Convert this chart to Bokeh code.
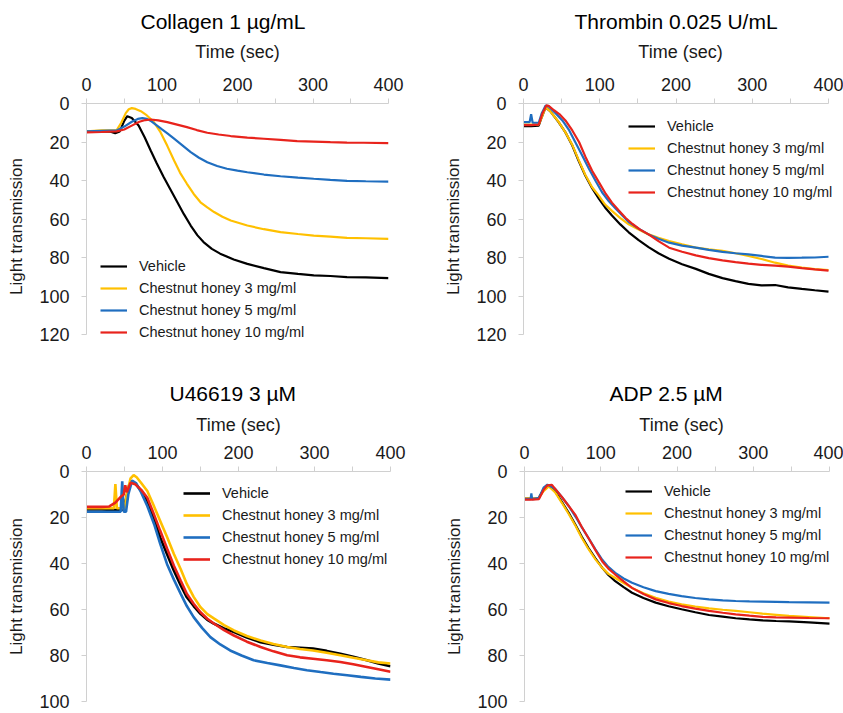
from bokeh.plotting import figure
from bokeh.models import Range1d, FixedTicker, Legend, LegendItem
from bokeh.layouts import column, row
from bokeh.embed import file_html
from bokeh.resources import INLINE

FONT = "Liberation Sans"
TITLES = ["Collagen 1 µg/mL", "Thrombin 0.025 U/mL", "U46619 3 µM", "ADP 2.5 µM"]
SERIES_LABELS = ["Vehicle", "Chestnut honey 3 mg/ml", "Chestnut honey 5 mg/ml", "Chestnut honey 10 mg/ml"]
COLORS = ["#000000", "#FFC000", "#1F6EC0", "#E8231C"]
X_TICKS = [0, 100, 200, 300, 400]
X_MINOR_TICKS = [50, 150, 250, 350]
Y_TICKS_TOP = [0, 20, 40, 60, 80, 100, 120]
Y_TICKS_BOTTOM = [0, 20, 40, 60, 80, 100]

# ---- Collagen 1 ug/mL ----
COL_VEH_T = [0, 20, 32, 38, 44, 50, 54, 60, 69, 77, 85, 93, 102, 111, 120, 129, 138, 147, 155, 166, 177, 195, 213, 235, 257, 280, 301, 323, 345, 370, 400]
COL_VEH_V = [14.5, 14.5, 14.6, 15.5, 14.5, 9.0, 6.6, 7.5, 11.4, 17.5, 24.4, 31.0, 38.0, 44.5, 51.0, 57.5, 63.4, 68.5, 72.0, 75.5, 78.0, 81.0, 83.3, 85.5, 87.6, 88.5, 89.3, 89.6, 90.2, 90.3, 90.7]
COL_Y3_T = [0, 20, 40, 46, 52, 56, 60, 65, 72, 80, 89, 98, 107, 116, 124, 133, 142, 151, 160, 169, 180, 191, 213, 235, 257, 280, 301, 323, 345, 370, 400]
COL_Y3_V = [14.5, 14.0, 13.8, 10.0, 5.0, 3.0, 2.4, 2.8, 4.0, 6.2, 9.5, 14.9, 22.0, 29.6, 36.0, 41.7, 47.0, 51.3, 54.0, 56.4, 58.8, 60.8, 63.4, 65.3, 66.8, 67.8, 68.6, 69.2, 69.8, 70.0, 70.3]
COL_B5_T = [0, 20, 40, 50, 60, 68, 74, 80, 86, 93, 100, 108, 116, 127, 138, 149, 160, 173, 186, 200, 213, 235, 257, 280, 301, 323, 345, 370, 400]
COL_B5_V = [14.5, 14.2, 14.0, 12.0, 9.5, 8.0, 7.6, 8.0, 9.3, 11.4, 13.5, 15.8, 18.3, 21.8, 25.3, 28.2, 30.5, 32.5, 33.9, 34.9, 35.7, 36.9, 37.8, 38.5, 39.1, 39.7, 40.2, 40.4, 40.6]
COL_R10_T = [0, 20, 40, 50, 60, 70, 78, 85, 95, 107, 120, 133, 146, 160, 175, 191, 213, 235, 257, 279, 301, 323, 345, 367, 400]
COL_R10_V = [15.0, 14.8, 14.5, 13.5, 11.5, 9.5, 8.6, 8.3, 8.8, 9.7, 11.0, 12.3, 13.8, 15.2, 16.1, 16.9, 17.7, 18.3, 18.9, 19.5, 19.8, 20.1, 20.3, 20.4, 20.6]

# ---- Thrombin 0.025 U/mL ----
THR_VEH_T = [0, 10, 20, 24, 29, 35, 46, 55, 64, 72, 81, 90, 99, 107, 116, 127, 138, 151, 164, 177, 191, 208, 226, 243, 261, 278, 295, 312, 330, 347, 365, 382, 400]
THR_VEH_V = [11.8, 11.8, 11.5, 7.0, 2.0, 4.0, 9.7, 15.0, 21.8, 29.5, 37.4, 44.0, 49.5, 54.0, 58.2, 62.8, 66.9, 71.0, 74.6, 77.8, 80.7, 83.5, 85.9, 88.5, 90.7, 92.3, 93.7, 94.5, 94.3, 95.5, 96.3, 97.0, 97.7]
THR_Y3_T = [0, 10, 20, 24, 29, 35, 46, 55, 64, 72, 81, 90, 99, 107, 116, 127, 138, 151, 164, 177, 191, 208, 226, 243, 261, 278, 295, 312, 330, 347, 365, 382, 400]
THR_Y3_V = [11.0, 11.0, 11.0, 7.0, 2.0, 4.0, 9.5, 15.0, 21.5, 29.0, 37.0, 43.5, 48.0, 52.5, 55.8, 59.5, 62.8, 65.5, 68.0, 69.8, 71.4, 73.2, 74.9, 75.8, 76.6, 77.8, 79.2, 80.8, 82.7, 84.2, 85.3, 86.0, 86.5]
THR_B5_T = [0, 8, 10, 12, 20, 24, 29, 33, 42, 51, 60, 68, 77, 86, 95, 103, 112, 121, 130, 138, 151, 164, 177, 191, 208, 226, 243, 261, 278, 295, 312, 330, 347, 365, 382, 400]
THR_B5_V = [9.7, 9.7, 5.5, 10.0, 10.0, 5.0, 1.0, 1.5, 5.0, 8.8, 14.0, 20.1, 27.0, 34.0, 40.5, 46.1, 50.8, 54.7, 58.3, 61.6, 65.0, 68.0, 70.3, 72.3, 73.8, 74.9, 76.0, 77.1, 77.8, 78.4, 79.2, 80.1, 80.2, 80.1, 80.0, 79.6]
THR_R10_T = [0, 10, 20, 25, 30, 33, 40, 47, 55, 64, 73, 81, 90, 99, 108, 116, 125, 134, 143, 153, 164, 177, 191, 208, 226, 243, 261, 278, 295, 312, 330, 347, 365, 382, 400]
THR_R10_V = [11.2, 11.2, 11.0, 5.0, 1.0, 1.2, 3.5, 5.5, 8.8, 14.0, 20.1, 27.5, 34.9, 41.0, 47.0, 51.5, 55.6, 59.5, 62.6, 65.5, 68.0, 71.5, 74.9, 77.0, 78.9, 80.3, 81.5, 82.4, 83.2, 83.8, 84.2, 84.7, 85.5, 86.2, 86.8]

# ---- U46619 3 uM ----
U46_VEH_T = [0, 20, 40, 48, 52, 56, 60, 65, 72, 80, 88, 97, 106, 115, 124, 132, 141, 150, 159, 168, 181, 194, 211, 229, 246, 264, 281, 298, 316, 334, 351, 369, 384, 400]
U46_VEH_V = [16.5, 16.5, 16.8, 16.5, 12.0, 6.0, 4.3, 5.5, 8.5, 12.8, 20.0, 28.7, 36.0, 43.1, 49.5, 54.7, 58.5, 61.9, 64.5, 66.2, 68.2, 69.8, 72.2, 74.2, 75.3, 76.3, 76.6, 77.0, 78.0, 79.2, 80.5, 82.1, 83.5, 84.7]
U46_Y3_T = [0, 20, 36, 38, 40, 50, 53, 58, 62, 66, 72, 80, 88, 97, 106, 115, 124, 132, 141, 150, 159, 168, 181, 194, 211, 229, 246, 264, 281, 298, 316, 334, 351, 369, 384, 400]
U46_Y3_V = [16.0, 16.0, 16.0, 5.5, 16.0, 16.0, 10.0, 3.0, 1.6, 2.5, 5.0, 8.5, 14.5, 21.5, 28.5, 35.9, 42.5, 48.9, 54.5, 59.0, 62.0, 64.0, 66.8, 69.1, 71.5, 73.5, 75.0, 76.3, 77.2, 77.8, 78.8, 79.9, 81.0, 82.1, 83.0, 83.5]
U46_B5_T = [0, 20, 40, 45, 47, 49, 52, 55, 60, 65, 71, 80, 89, 97, 106, 115, 124, 132, 141, 152, 163, 176, 189, 204, 220, 238, 255, 273, 290, 308, 325, 343, 361, 380, 400]
U46_B5_V = [17.5, 17.5, 17.5, 17.5, 4.3, 17.5, 17.5, 10.0, 4.0, 5.0, 8.5, 15.0, 22.9, 31.5, 40.3, 47.0, 53.2, 58.5, 63.3, 68.0, 72.0, 75.2, 77.8, 80.0, 82.1, 83.3, 84.3, 85.4, 86.4, 87.2, 87.9, 88.6, 89.3, 90.0, 90.5]
U46_R10_T = [0, 20, 30, 38, 45, 49, 51, 53, 58, 64, 72, 80, 88, 97, 106, 115, 124, 132, 141, 150, 159, 168, 181, 194, 211, 229, 246, 264, 281, 298, 316, 334, 351, 369, 384, 400]
U46_R10_V = [15.4, 15.4, 15.2, 13.5, 11.0, 10.0, 6.0, 9.0, 4.9, 5.5, 8.0, 11.4, 18.0, 25.8, 33.5, 41.0, 47.5, 53.2, 57.5, 61.2, 64.0, 66.2, 69.0, 71.3, 74.0, 76.3, 78.2, 79.9, 80.8, 81.4, 82.1, 82.8, 83.8, 85.0, 86.0, 87.1]

# ---- ADP 2.5 uM ----
ADP_VEH_T = [0, 10, 18, 25, 32, 40, 49, 58, 67, 75, 84, 93, 102, 110, 119, 130, 141, 156, 172, 189, 206, 224, 242, 260, 277, 295, 312, 330, 347, 373, 400]
ADP_VEH_V = [11.8, 11.8, 11.8, 8.0, 6.3, 8.5, 13.2, 18.0, 23.3, 28.3, 33.3, 37.8, 41.9, 45.0, 47.7, 50.3, 52.7, 55.0, 57.0, 58.6, 59.9, 61.2, 62.4, 63.1, 63.8, 64.3, 64.7, 65.0, 65.2, 65.6, 66.1]
ADP_Y3_T = [0, 10, 18, 25, 32, 40, 49, 58, 67, 75, 84, 93, 102, 110, 119, 130, 141, 156, 172, 189, 206, 224, 242, 260, 277, 295, 312, 330, 347, 373, 400]
ADP_Y3_V = [11.8, 11.8, 11.8, 8.5, 6.5, 9.0, 13.6, 18.5, 23.7, 28.8, 33.8, 38.2, 41.9, 44.5, 46.3, 48.5, 50.6, 52.9, 54.9, 56.5, 57.8, 58.7, 59.5, 60.1, 60.6, 61.2, 61.8, 62.3, 62.8, 63.3, 63.8]
ADP_B5_T = [0, 8, 9, 10, 12, 19, 25, 30, 40, 49, 58, 67, 75, 84, 93, 102, 110, 119, 130, 141, 156, 172, 189, 206, 224, 242, 260, 277, 295, 312, 330, 347, 373, 400]
ADP_B5_V = [12.0, 12.0, 9.5, 12.0, 12.0, 11.5, 7.0, 5.7, 7.5, 11.1, 15.0, 19.7, 24.2, 29.0, 33.8, 38.4, 41.5, 44.1, 46.5, 48.4, 50.3, 52.0, 53.2, 54.2, 55.0, 55.6, 56.0, 56.3, 56.5, 56.6, 56.7, 56.8, 56.9, 57.0]
ADP_R10_T = [0, 10, 19, 25, 30, 36, 40, 49, 58, 67, 75, 84, 93, 102, 110, 119, 130, 141, 156, 172, 189, 206, 224, 242, 260, 277, 295, 312, 330, 347, 373, 400]
ADP_R10_V = [12.2, 12.2, 12.0, 8.0, 6.0, 5.8, 7.5, 11.1, 15.0, 19.0, 24.0, 29.0, 34.2, 39.1, 42.2, 44.8, 47.8, 50.6, 53.3, 55.6, 57.2, 58.5, 59.6, 60.6, 61.4, 62.1, 62.7, 63.2, 63.4, 63.5, 63.7, 63.8]


AXIS_GREY = "#D0D0D0"
TEXT_COL = "#1a1a1a"
X_MAX = 400


def make_panel(title, series, y_max, y_ticks, width, height, borders,
               title_offset, legend_loc, axis_std, title_std,
               y_axis_px, y_frame_px, x_axis_px, x_frame_px, lw):
    left, right, top, bottom = borders
    # frame a little larger than the axes so the legend can overhang them
    y_start = y_max * y_frame_px / y_axis_px
    x_end = X_MAX * x_frame_px / x_axis_px
    p = figure(width=width, height=height,
               x_range=Range1d(0, x_end), y_range=Range1d(y_start, 0),
               x_axis_location="above", y_axis_location="left",
               output_backend="svg", toolbar_location=None,
               min_border_left=left, min_border_right=right,
               min_border_top=top, min_border_bottom=bottom)
    p.title.text = title
    p.title.align = "left"
    p.title.offset = title_offset
    p.title.text_font = FONT
    p.title.text_font_size = "21px"
    p.title.text_font_style = "normal"
    p.title.text_color = "#000000"
    p.title.standoff = title_std
    p.grid.visible = False
    p.outline_line_color = None
    p.background_fill_color = "white"
    p.border_fill_color = "white"

    xa = p.xaxis[0]
    xa.ticker = FixedTicker(ticks=X_TICKS, minor_ticks=X_MINOR_TICKS)
    xa.axis_label = "Time (sec)"
    xa.bounds = (0, X_MAX)
    ya = p.yaxis[0]
    ya.ticker = FixedTicker(ticks=y_ticks)
    ya.axis_label = "Light transmission"
    ya.bounds = (0, y_max)
    for ax in (xa, ya):
        ax.axis_line_color = AXIS_GREY
        ax.axis_line_width = 1
        ax.major_tick_line_color = AXIS_GREY
        ax.minor_tick_line_color = AXIS_GREY
        ax.major_tick_out = 5
        ax.major_tick_in = 0
        ax.minor_tick_out = 5
        ax.minor_tick_in = 0
        ax.major_label_text_font = FONT
        ax.major_label_text_font_size = "18px"
        ax.major_label_text_color = TEXT_COL
        ax.axis_label_text_font = FONT
        ax.axis_label_text_font_style = "normal"
        ax.axis_label_text_color = TEXT_COL
    xa.axis_label_text_font_size = "18px"
    ya.axis_label_text_font_size = "17px"
    xa.major_label_standoff = 8
    xa.axis_label_standoff = axis_std
    ya.major_label_standoff = 12
    ya.axis_label_standoff = 10

    items = []
    for (t, v), color, label in zip(series, COLORS, SERIES_LABELS):
        r = p.line(t, v, line_color=color, line_width=lw)
        items.append(LegendItem(label=label, renderers=[r]))
    legend = Legend(items=items, location=legend_loc,
                    background_fill_alpha=0, border_line_alpha=0,
                    padding=0, margin=0, spacing=2,
                    glyph_width=27, glyph_height=20, label_height=20,
                    label_standoff=12,
                    label_text_font=FONT, label_text_font_size="14.5px",
                    label_text_color=TEXT_COL)
    p.add_layout(legend, "center")
    return p


p1 = make_panel(TITLES[0],
                [(COL_VEH_T, COL_VEH_V), (COL_Y3_T, COL_Y3_V), (COL_B5_T, COL_B5_V), (COL_R10_T, COL_R10_V)],
                120, Y_TICKS_TOP, 420, 360, (86, 32, 103, 11), 54, (14, 7), 13, 12,
                231, 246, 302, 302, 2.2)
p2 = make_panel(TITLES[1],
                [(THR_VEH_T, THR_VEH_V), (THR_Y3_T, THR_Y3_V), (THR_B5_T, THR_B5_V), (THR_R10_T, THR_R10_V)],
                120, Y_TICKS_TOP, 423, 360, (103, 6, 103, 11), 51, (105, 147), 13, 12,
                231, 246, 305, 314, 2.2)
p3 = make_panel(TITLES[2],
                [(U46_VEH_T, U46_VEH_V), (U46_Y3_T, U46_Y3_V), (U46_B5_T, U46_B5_V), (U46_R10_T, U46_R10_V)],
                100, Y_TICKS_BOTTOM, 420, 353, (86, 30, 111, 12), 83, (97, 132), 8, 13,
                230, 230, 304, 304, 2.6)
p4 = make_panel(TITLES[3],
                [(ADP_VEH_T, ADP_VEH_V), (ADP_Y3_T, ADP_Y3_V), (ADP_B5_T, ADP_B5_V), (ADP_R10_T, ADP_R10_V)],
                100, Y_TICKS_BOTTOM, 423, 353, (104, 5, 111, 12), 85, (101, 134), 8, 13,
                230, 230, 305, 314, 2.2)

layout = column(row(p1, p2), row(p3, p4))
open("out.html", "w").write(file_html(layout, INLINE))
